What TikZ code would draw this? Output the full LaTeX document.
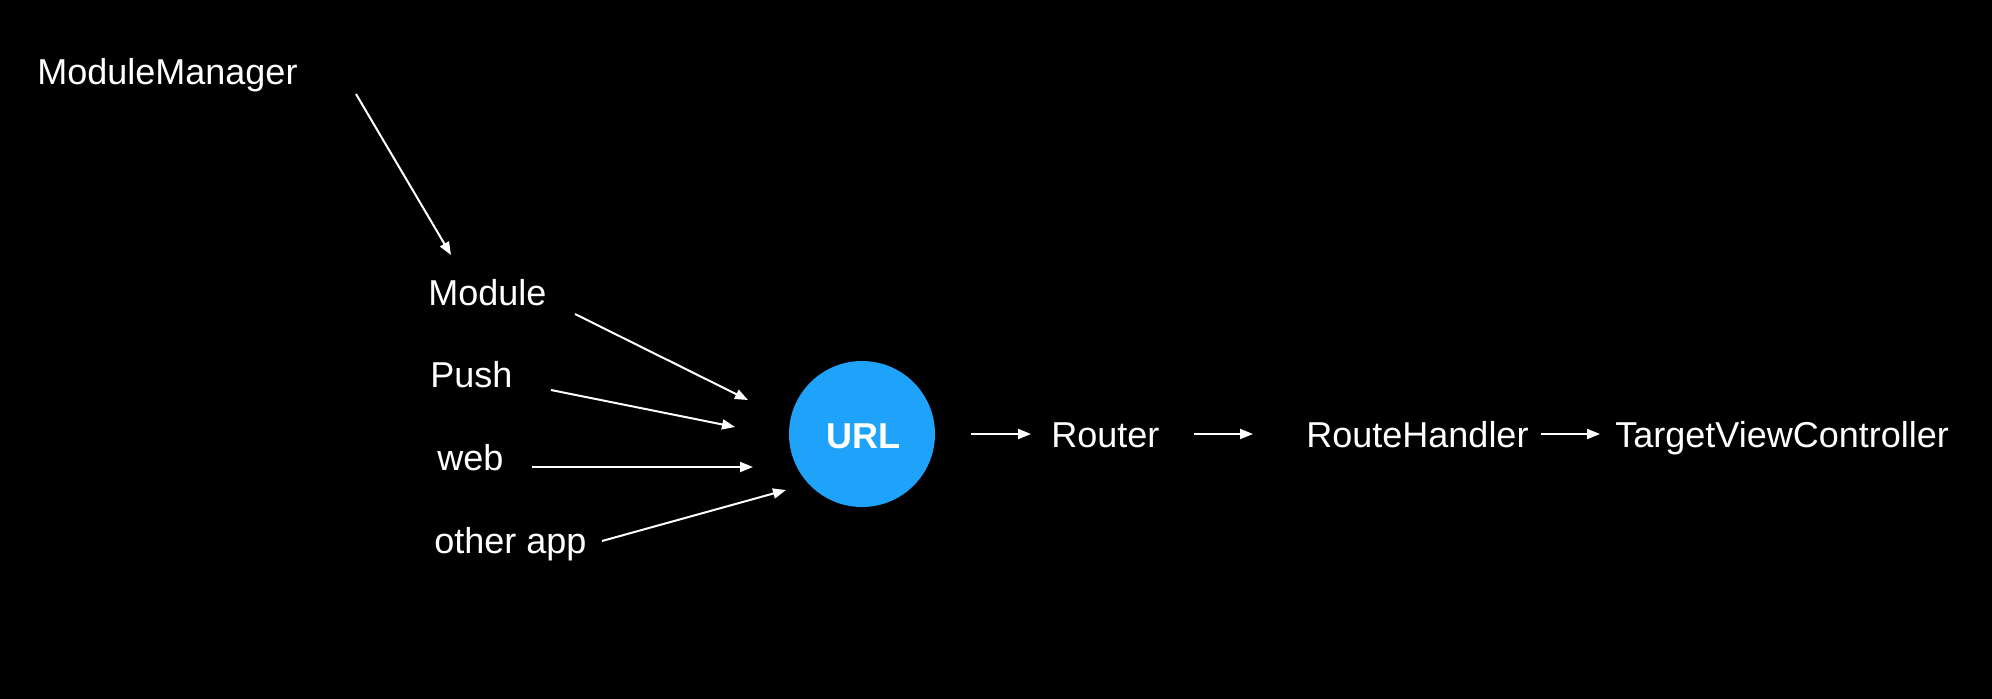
\documentclass[tikz,border=0pt]{standalone}
\usepackage{fontspec}
\setmainfont{Liberation Sans}
\usetikzlibrary{arrows.meta}
\definecolor{urlblue}{RGB}{30,162,250}
\tikzset{
  lbl/.style={text=white, anchor=base west, inner sep=0pt, font=\fontsize{18pt}{21pt}\selectfont},
  arr/.style={draw=white, line width=1pt, -{Triangle[length=6.5pt,width=5pt]}},
}
\begin{document}
\begin{tikzpicture}[x=0.5pt,y=-0.5pt]
\useasboundingbox (0,0) rectangle (1992,698);
\fill[black] (-4,-4) rectangle (1996,702);
% nodes
\node[lbl] (mm) at (37,84) {ModuleManager};
\node[lbl] (module) at (428,305) {Module};
\node[lbl] (push) at (430,387) {Push};
\node[lbl] (web) at (437,470) {web};
\node[lbl] (other) at (434,553) {other app};
\node[circle, fill=urlblue, minimum size=146*0.5pt, inner sep=0pt] (url) at (862,434) {};
\node[text=white, inner sep=0pt, font=\fontsize{18pt}{21pt}\selectfont\bfseries, anchor=base] (urltxt) at (863,448) {URL};
\node[lbl] (router) at (1051,447) {Router};
\node[lbl] (handler) at (1306,447) {RouteHandler};
\node[lbl] (target) at (1615,447) {TargetViewController};
% arrow end points
\coordinate (mmS) at (356,94);   \coordinate (mmE) at (451,255);
\coordinate (moS) at (575,314);  \coordinate (moE) at (748,400);
\coordinate (puS) at (551,390);  \coordinate (puE) at (735,427);
\coordinate (weS) at (532,467);  \coordinate (weE) at (753,467);
\coordinate (otS) at (602,541);  \coordinate (otE) at (786,490);
\coordinate (urS) at (971,434);  \coordinate (urE) at (1031,434);
\coordinate (roS) at (1194,434); \coordinate (roE) at (1253,434);
\coordinate (rhS) at (1541,434); \coordinate (rhE) at (1600,434);
% connectors
\draw[arr] (mmS) -- (mmE);
\draw[arr] (moS) -- (moE);
\draw[arr] (puS) -- (puE);
\draw[arr] (weS) -- (weE);
\draw[arr] (otS) -- (otE);
\draw[arr] (urS) -- (urE);
\draw[arr] (roS) -- (roE);
\draw[arr] (rhS) -- (rhE);
\end{tikzpicture}
\end{document}
